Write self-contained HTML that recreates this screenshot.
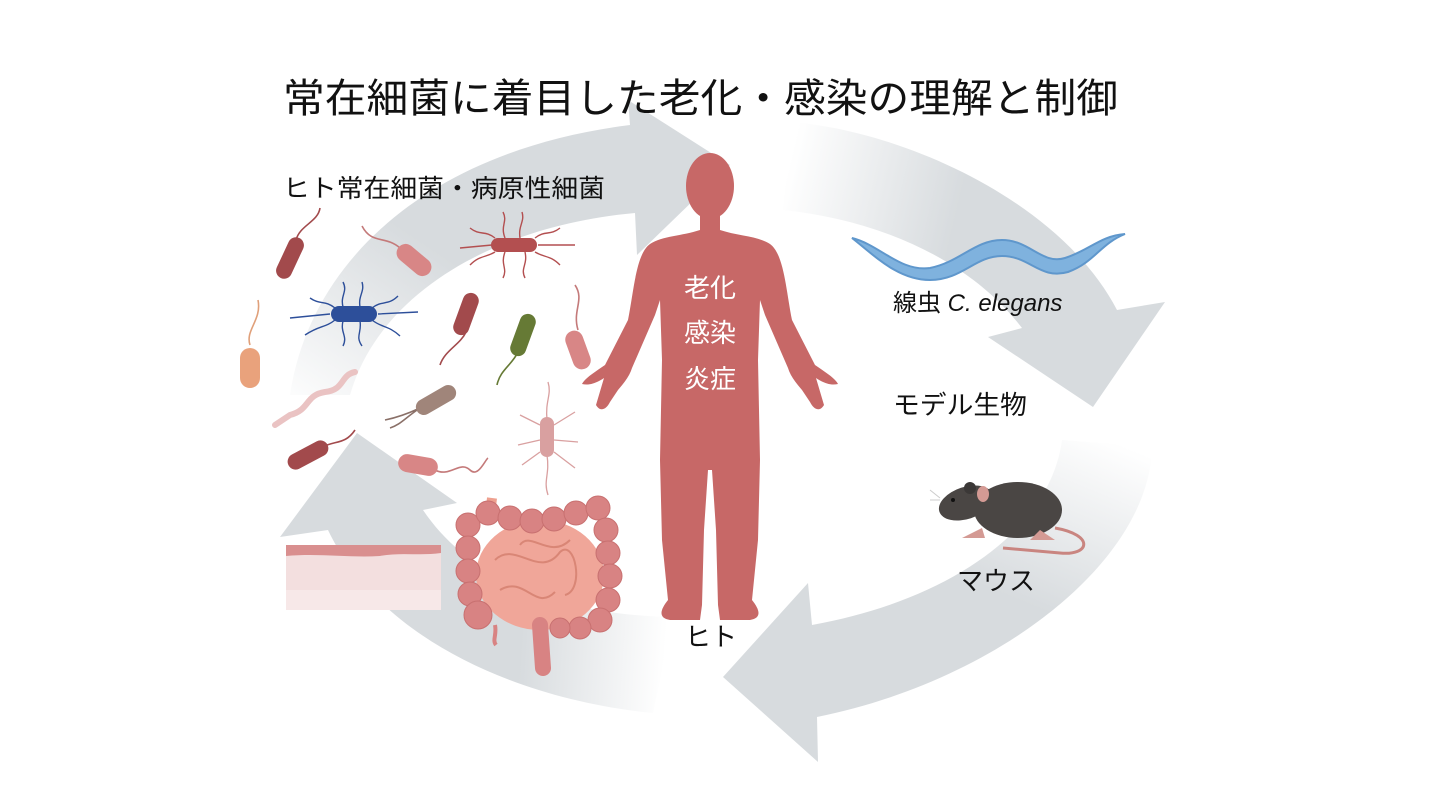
<!DOCTYPE html>
<html><head><meta charset="utf-8"><style>
html,body{margin:0;padding:0;background:#fff;}
svg{display:block;}
text{font-family:"Liberation Sans","Noto Sans CJK JP",sans-serif;}
</style></head><body>
<svg width="1440" height="810" viewBox="0 0 1440 810" xmlns="http://www.w3.org/2000/svg">
<defs>
<linearGradient id="g1" gradientUnits="userSpaceOnUse" x1="300" y1="420" x2="420" y2="240"><stop offset="0" stop-color="#fff"/><stop offset="1" stop-color="#d7dbde"/></linearGradient>
<linearGradient id="g2" gradientUnits="userSpaceOnUse" x1="790" y1="160" x2="960" y2="200"><stop offset="0" stop-color="#fff"/><stop offset="1" stop-color="#d7dbde"/></linearGradient>
<linearGradient id="g3" gradientUnits="userSpaceOnUse" x1="1110" y1="440" x2="1040" y2="610"><stop offset="0" stop-color="#fff"/><stop offset="1" stop-color="#d7dbde"/></linearGradient>
<linearGradient id="g4" gradientUnits="userSpaceOnUse" x1="665" y1="660" x2="520" y2="650"><stop offset="0" stop-color="#fff"/><stop offset="1" stop-color="#d7dbde"/></linearGradient>
</defs>

<!-- arrows -->
<path d="M 290 395 C 310 260 430 150 630 125 L 628 100 L 730 165 L 637 255 L 635 213 C 500 225 380 290 350 395 Z" fill="url(#g1)"/>
<path d="M 790 122 C 900 130 1060 200 1117 310 L 1165 302 L 1093 407 L 988 337 L 1022 328 C 970 260 880 220 783 210 Z" fill="url(#g2)"/>
<path d="M 1152 447 C 1150 560 1000 680 817 717 L 818 762 L 723 677 L 808 583 L 812 625 C 950 600 1050 530 1062 440 Z" fill="url(#g3)"/>
<path d="M 653 713 C 520 700 380 640 328 530 L 280 537 L 357 433 L 457 503 L 423 510 C 470 580 560 615 673 617 Z" fill="url(#g4)"/>

<!-- title -->
<text x="283" y="112" font-size="40" textLength="835" lengthAdjust="spacingAndGlyphs" fill="#111">常在細菌に着目した老化・感染の理解と制御</text>
<text x="283" y="197" font-size="25" textLength="322" lengthAdjust="spacingAndGlyphs" fill="#111">ヒト常在細菌・病原性細菌</text>

<!-- human -->
<g fill="#c76867">
<ellipse cx="710" cy="186" rx="24" ry="33"/>
<path d="M 700 210 L 700 230 C 682 236 662 236 650 244 C 636 254 634 290 628 320 L 605 365 C 595 372 585 378 582 384 C 590 386 598 382 604 378 L 596 405 C 600 412 606 410 610 402 L 618 390 C 625 382 630 375 632 368 L 655 315 L 660 300 L 662 360 L 660 460 L 662 540 L 668 600 C 660 610 658 618 670 620 L 700 620 L 702 605 L 704 530 L 708 470 L 712 470 L 716 530 L 718 605 L 720 620 L 750 620 C 762 618 760 610 752 600 L 758 540 L 760 460 L 758 360 L 760 300 L 765 315 L 788 368 C 790 375 795 382 802 390 L 810 402 C 814 410 820 412 824 405 L 816 378 C 822 382 830 386 838 384 C 835 378 825 372 815 365 L 792 320 C 786 290 784 254 770 244 C 758 236 738 236 720 230 L 720 210 Z"/>
</g>
<g fill="#fff" font-size="26" text-anchor="middle">
<text x="710" y="297">老化</text>
<text x="710" y="342">感染</text>
<text x="710" y="388">炎症</text>
</g>
<text x="711" y="646" font-size="26" text-anchor="middle" fill="#111">ヒト</text>

<!-- worm -->
<path d="M 852 238 C 880 245 900 272 930 268 C 960 262 975 240 1002 240 C 1030 240 1042 265 1065 258 C 1090 250 1100 236 1125 234 C 1100 244 1095 262 1068 272 C 1040 280 1030 256 1002 256 C 975 256 962 280 930 280 C 898 280 875 256 852 238 Z" fill="#7fb2de" stroke="#5f97cc" stroke-width="2"/>
<text x="893" y="311" font-size="24" fill="#111">線虫 <tspan font-style="italic">C. elegans</tspan></text>
<text x="893" y="414" font-size="26" textLength="134" lengthAdjust="spacingAndGlyphs" fill="#111">モデル生物</text>

<!-- mouse -->
<path d="M 1055 528 C 1095 535 1090 556 1060 553 L 1003 548" fill="none" stroke="#c98580" stroke-width="3"/>
<ellipse cx="1018" cy="510" rx="44" ry="28" fill="#4a4644"/>
<ellipse cx="966" cy="503" rx="28" ry="16" transform="rotate(-18 966 503)" fill="#4a4644"/>
<circle cx="970" cy="488" r="6" fill="#3b3837"/>
<ellipse cx="983" cy="494" rx="6" ry="8" fill="#d49a94"/>
<circle cx="953" cy="500" r="2" fill="#111"/>
<path d="M 940 498 L 930 490 M 940 500 L 930 500" stroke="#ccc" stroke-width="1"/>
<path d="M 982 528 L 962 538 L 985 538 Z M 1040 530 L 1030 540 L 1055 540 Z" fill="#d49a94"/>
<text x="957" y="590" font-size="26" fill="#111">マウス</text>

<!-- skin -->
<rect x="286" y="545" width="155" height="65" fill="#f3dfdf"/>
<path d="M 286 545 L 441 545 L 441 553 C 420 556 400 552 380 556 C 350 558 320 553 286 556 Z" fill="#d98f8f"/>
<rect x="286" y="590" width="155" height="20" fill="#f7e8e8"/>

<!-- intestines -->
<path d="M 490 515 L 492 498" stroke="#eea08f" stroke-width="10"/>
<ellipse cx="540" cy="575" rx="64" ry="55" fill="#f0a699"/>
<path d="M 495 560 C 515 540 540 580 560 552 C 575 538 585 590 565 595 M 500 590 C 525 575 535 612 555 592 M 520 545 C 530 530 550 560 570 540" fill="none" stroke="#d98676" stroke-width="2"/>
<g fill="#d88383" stroke="#c87070" stroke-width="1">
<circle cx="468" cy="525" r="12"/><circle cx="468" cy="548" r="12"/><circle cx="468" cy="571" r="12"/><circle cx="470" cy="594" r="12"/><circle cx="478" cy="615" r="14"/>
<circle cx="488" cy="513" r="12"/><circle cx="510" cy="518" r="12"/><circle cx="532" cy="521" r="12"/><circle cx="554" cy="519" r="12"/><circle cx="576" cy="513" r="12"/><circle cx="598" cy="508" r="12"/>
<circle cx="606" cy="530" r="12"/><circle cx="608" cy="553" r="12"/><circle cx="610" cy="576" r="12"/><circle cx="608" cy="600" r="12"/><circle cx="600" cy="620" r="12"/><circle cx="580" cy="628" r="11"/><circle cx="560" cy="628" r="10"/>
</g>
<path d="M 540 625 L 543 668" stroke="#d88383" stroke-width="16" stroke-linecap="round"/>
<path d="M 495 625 C 497 635 492 640 496 645" stroke="#d88383" stroke-width="4" fill="none"/>

<!-- bacteria -->
<g stroke-width="1.6" fill="none">
<path d="M 296 240 C 300 225 318 222 320 208" stroke="#a24a4c"/>
<path d="M 400 248 C 385 235 372 245 362 226" stroke="#c47a7a"/>
<path d="M 466 332 C 460 345 445 350 440 365" stroke="#a24a4c"/>
<path d="M 518 352 C 512 365 500 370 497 385" stroke="#667a35"/>
<path d="M 578 330 C 572 310 585 300 575 285" stroke="#c47a7a"/>
<path d="M 250 345 C 245 330 262 320 258 300" stroke="#e0a07a"/>
<path d="M 420 408 C 405 415 395 418 385 420 M 420 408 C 405 418 400 425 390 428" stroke="#8a7068"/>
<path d="M 320 448 C 335 440 345 445 355 430" stroke="#a24a4c"/>
<path d="M 435 470 C 450 478 460 460 470 470 C 478 478 485 460 488 458" stroke="#c47a7a"/>
<path d="M 355 372 C 340 375 345 390 325 392 C 305 395 310 410 290 415 L 275 425" stroke="#eac3c3" stroke-width="6" stroke-linecap="round"/>
</g>
<g stroke="#b34f50" stroke-width="1.4" fill="none">
<path d="M 495 238 C 485 230 480 236 470 228 M 495 252 C 485 258 480 255 470 265 M 535 238 C 545 230 550 236 560 228 M 535 252 C 545 258 550 255 560 265 M 505 238 C 500 225 508 222 503 212 M 520 238 C 518 225 525 222 522 212 M 505 252 C 500 265 508 268 503 278 M 525 252 C 528 265 520 268 525 278 M 492 245 L 460 248 M 538 245 L 575 245"/>
</g>
<g stroke="#2d4f9a" stroke-width="1.4" fill="none">
<path d="M 335 308 C 325 300 320 305 310 298 M 335 320 C 325 328 320 325 305 335 M 372 308 C 382 300 388 306 398 296 M 372 320 C 382 328 388 325 400 336 M 343 307 C 340 295 348 292 343 282 M 360 307 C 358 295 365 292 362 282 M 343 321 C 340 333 348 336 343 346 M 360 321 C 362 333 355 336 362 346 M 330 314 L 290 318 M 378 314 L 418 312"/>
</g>
<g stroke="#d9a0a0" stroke-width="1.3" fill="none">
<path d="M 547 420 C 545 400 552 395 548 382 M 547 455 C 550 475 543 480 548 495 M 540 425 L 520 415 M 540 440 L 518 445 M 540 452 L 522 465 M 554 425 L 575 412 M 554 440 L 578 442 M 554 452 L 575 468"/>
</g>
<g>
<rect x="-22" y="-8" width="44" height="16" rx="8" fill="#a24a4c" transform="translate(290 258) rotate(-65)"/>
<rect x="-20" y="-9" width="40" height="18" rx="9" fill="#d88686" transform="translate(414 260) rotate(40)"/>
<rect x="-23" y="-7" width="46" height="14" rx="7" fill="#b34f50" transform="translate(514 245)"/>
<rect x="-23" y="-8" width="46" height="16" rx="8" fill="#2d4f9a" transform="translate(354 314)"/>
<rect x="-22" y="-8" width="44" height="16" rx="8" fill="#a24a4c" transform="translate(466 314) rotate(-70)"/>
<rect x="-22" y="-8" width="44" height="16" rx="8" fill="#667a35" transform="translate(523 335) rotate(-70)"/>
<rect x="-20" y="-9" width="40" height="18" rx="9" fill="#d88686" transform="translate(578 350) rotate(70)"/>
<rect x="-20" y="-10" width="40" height="20" rx="10" fill="#e9a27c" transform="translate(250 368) rotate(90)"/>
<rect x="-22" y="-8" width="44" height="16" rx="8" fill="#a0857a" transform="translate(436 400) rotate(-30)"/>
<rect x="-22" y="-8" width="44" height="16" rx="8" fill="#a24a4c" transform="translate(308 455) rotate(-28)"/>
<rect x="-20" y="-9" width="40" height="18" rx="9" fill="#d88686" transform="translate(418 465) rotate(10)"/>
<rect x="-7" y="-20" width="14" height="40" rx="7" fill="#d9a0a0" transform="translate(547 437)"/>
</g>
</svg>
</body></html>
